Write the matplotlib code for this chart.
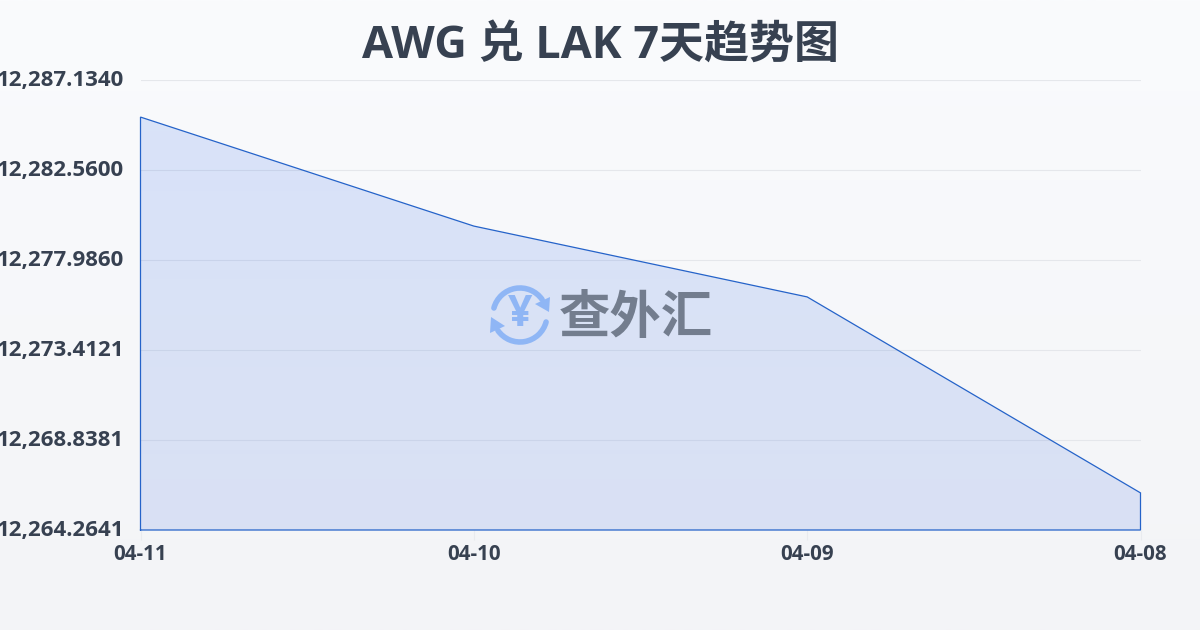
import numpy as np
import matplotlib
matplotlib.use("Agg")
import matplotlib.pyplot as plt
from matplotlib.patches import Arc, Polygon
from matplotlib.transforms import ScaledTranslation

FONTS = ['Open Sans', 'Noto Sans CJK SC', 'DejaVu Sans']
plt.rcParams['font.family'] = FONTS

dates = ["04-11", "04-10", "04-09", "04-08"]
rates = [12285.25, 12279.71, 12276.11, 12266.15]
y_ticks = [12264.2641, 12268.8381, 12273.4121, 12277.9860, 12282.5600, 12287.1340]
y_labels = ["12,264.2641", "12,268.8381", "12,273.4121", "12,277.9860", "12,282.5600", "12,287.1340"]
title = "AWG 兑 LAK 7天趋势图"
watermark = "查外汇"

W, H = 1200, 630
DARK = "#374151"
LINE = "#2563c9"
fig = plt.figure(figsize=(12, 6.3), dpi=100)

bg = fig.add_axes([0, 0, 1, 1], zorder=0)
bg.imshow(np.linspace(0, 1, 256).reshape(-1, 1), aspect="auto", extent=[0, 1, 0, 1],
          cmap=matplotlib.colors.LinearSegmentedColormap.from_list("b", ["#fafbfd", "#f3f4f7"]))
bg.axis("off")

ax = fig.add_axes([140.5 / W, 1 - 530 / H, 1000 / W, 450 / H], zorder=1)
ax.patch.set_alpha(0)
x = np.arange(len(dates))
ax.set_xlim(x[0], x[-1])
ax.set_ylim(y_ticks[0], y_ticks[-1])

# vertical gradient fill, clipped to the area under the series
poly = ax.fill_between(x, rates, y_ticks[0], color="none", lw=0)
rgba = np.zeros((256, 1, 4))
t = np.linspace(0, 1, 256)
rgba[:, 0, 0] = 37 / 255
rgba[:, 0, 1] = (99 - 9 * t) / 255
rgba[:, 0, 2] = (235 - 15 * t) / 255
rgba[:, 0, 3] = 0.15 - 0.02 * t
im = ax.imshow(rgba, aspect="auto", extent=[x[0], x[-1], y_ticks[0], y_ticks[-1]], origin="upper", zorder=2)
im.set_clip_path(poly.get_paths()[0], transform=ax.transData)

ax.plot(np.r_[x[0], x, x[-1], x[0]], np.r_[y_ticks[0], rates, y_ticks[0], y_ticks[0]],
        color=LINE, lw=0.9, zorder=3, solid_joinstyle="miter", clip_on=False)
ax.set_xticks(x, dates)
ax.set_yticks(y_ticks, y_labels)
ax.grid(axis="y", color="#e5e7eb", lw=0.8, zorder=1)
ax.set_axisbelow(True)
for s in ax.spines.values():
    s.set_visible(False)
ax.tick_params(axis="x", length=7, width=0.8, color="#e9ebef", pad=3, labelcolor=DARK)
ax.tick_params(axis="y", length=0, pad=12, labelcolor=DARK)
for tk in ax.get_xticklabels():
    tk.set_fontweight("bold"); tk.set_fontsize(14.8)
lift = ScaledTranslation(0, 2 / 100, fig.dpi_scale_trans)
for tk in ax.get_yticklabels():
    tk.set_fontweight("bold"); tk.set_fontsize(16)
    tk.set_transform(tk.get_transform() + lift)

fig.text(600 / W, 1 - 46 / H, title, ha="center", va="center", fontsize=32.4, fontweight="bold",
         color=DARK, zorder=5)

ov = fig.add_axes([0, 0, 1, 1], zorder=4)
ov.set_xlim(0, W); ov.set_ylim(H, 0); ov.axis("off")
ICON = "#8fb6f5"
cx, cy, r = 520, 315, 27
# y axis is inverted, so Arc angles run clockwise on screen
ov.add_patch(Arc((cx, cy), 2 * r, 2 * r, theta1=195, theta2=325, color=ICON, lw=4, capstyle="round"))
ov.add_patch(Arc((cx, cy), 2 * r, 2 * r, theta1=15, theta2=145, color=ICON, lw=4, capstyle="round"))
ov.add_patch(Polygon([[550, 297], [549, 312], [535, 304]], closed=True, color=ICON, lw=0))
ov.add_patch(Polygon([[490, 333], [491, 317], [505, 326]], closed=True, color=ICON, lw=0))
ov.text(cx, cy, "¥", ha="center", va="center", fontsize=31, fontweight="bold", color=ICON)
ov.text(636, 320, watermark, ha="center", va="center", fontsize=37, fontweight="bold", color="#737d8e")

fig.savefig("out.png", dpi=100)
